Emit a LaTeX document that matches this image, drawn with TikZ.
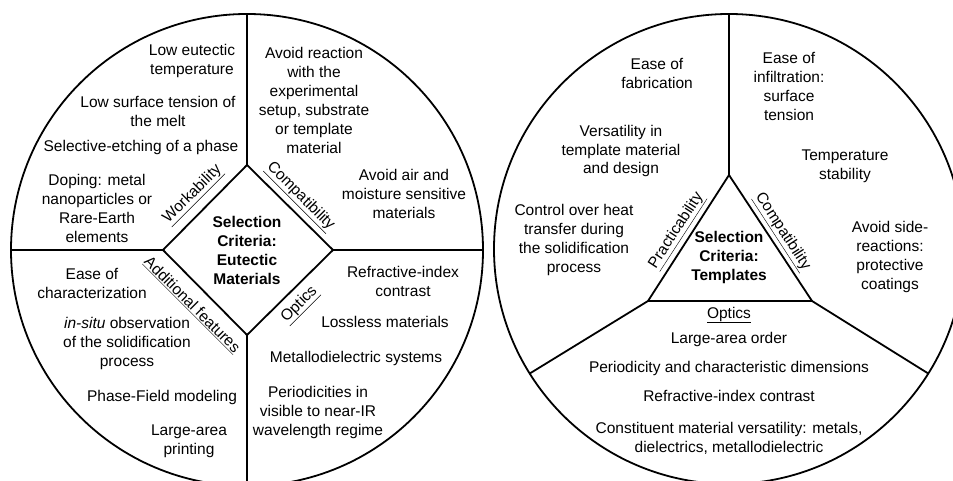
\documentclass[tikz,border=0pt]{standalone}
\usepackage{fontspec}
\setmainfont{Liberation Sans}
\usetikzlibrary{positioning}

\tikzset{
  crit/.style={align=center, font=\fontsize{15.5}{19}\selectfont, inner sep=0pt},
  core/.style={align=center, font=\fontsize{15.5}{19}\selectfont\bfseries, inner sep=0pt},
  sectitle/.style={font=\fontsize{15.5}{19}\selectfont, inner sep=1pt},
  wheel/.style={line width=1.8pt, line join=miter}
}

\begin{document}
\begin{tikzpicture}[x=1pt, y=1pt]

        \useasboundingbox (0,0) rectangle (953,481);
        \clip (0,0) rectangle (953,481);

        % Left wheel: eutectic materials
        \coordinate (lc) at (247,231);
        \draw[wheel] (lc) circle (236);
        \draw[wheel] (247,316) coordinate (dt) -- (333,231) coordinate (dr)
            -- (247,146) coordinate (db) -- (163,231) coordinate (dl) -- cycle;
        \draw[wheel] (dt) -- ([shift={(90:236)}]lc);
        \draw[wheel] (db) -- ([shift={(270:236)}]lc);
        \draw[wheel] (dl) -- ([shift={(180:236)}]lc);
        \draw[wheel] (dr) -- ([shift={(0:236)}]lc);

        % Right wheel: templates
        \coordinate (rc) at (729,232);
        \draw[wheel] (rc) circle (235);
        \draw[wheel] (729,306) coordinate (tt) -- (812,180) coordinate (tr)
            -- (648,180) coordinate (tl) -- cycle;
        \draw[wheel] (tt) -- ([shift={(90:235)}]rc);
        \draw[wheel] (tl) -- ([shift={(212:235)}]rc);
        \draw[wheel] (tr) -- ([shift={(328:235)}]rc);

        % centres
        \node[core] (eutcore) at (247,231) {Selection\\Criteria:\\Eutectic\\Materials};
        \node[core] (tplcore) at (729,224) {Selection\\Criteria:\\Templates};

        % section titles
        \node[sectitle, rotate=45] (workab) at (193,286) {\underline{Workability}};
        \node[sectitle, rotate=-45] (compatl) at (300,284) {\underline{Compatibility}};
        \node[sectitle, rotate=-45] (addfeat) at (192,176) {\underline{Additional features}};
        \node[sectitle, rotate=45] (opticsl) at (300,176) {\underline{Optics}};
        \node[sectitle, rotate=57] (practic) at (677,250) {\underline{Practicability}};
        \node[sectitle, rotate=-57] (compatr) at (782,249) {\underline{Compatibility}};
        \node[sectitle] (opticsr) at (729,166) {\underline{Optics}};

        % Workability
        \node[crit] (lowtemp) at (192,420) {Low eutectic\\temperature};
        \node[crit] (surften) at (158,370) {Low surface tension of\\the melt};
        \node[crit] (etching) at (141,333) {Selective-etching of a phase};
        \node[crit] (doping) at (97,273) {Doping: metal\\nanoparticles or\\Rare-Earth\\elements};
        % Compatibility
        \node[crit] (noreac) at (314,381) {Avoid reaction\\with the\\experimental\\setup, substrate\\or template\\material};
        \node[crit] (noair) at (404,287) {Avoid air and\\moisture sensitive\\materials};
        % Additional features
        \node[crit] (easechar) at (92,198) {Ease of\\characterization};
        \node[crit] (insitu) at (127,138) {\textit{in-situ} observation\\of the solidification\\process};
        \node[crit] (phasefld) at (162,84) {Phase-Field modeling};
        \node[crit] (printing) at (189,40) {Large-area\\printing};
        % Optics
        \node[crit] (rindex) at (403,200) {Refractive-index\\contrast};
        \node[crit] (lossless) at (385,159) {Lossless materials};
        \node[crit] (metsys) at (356,123) {Metallodielectric systems};
        \node[crit] (nearir) at (318,69) {Periodicities in\\visible to near-IR\\wavelength regime};

        % Practicability
        \node[crit] (fabric) at (657,408) {Ease of\\fabrication};
        \node[crit] (versat) at (621,330) {Versatility in\\template material\\and design};
        \node[crit] (heatctl) at (574,241) {Control over heat\\transfer during\\the solidification\\process};
        % Compatibility
        \node[crit] (infil) at (789,395) {Ease of\\infiltration:\\surface\\tension};
        \node[crit] (tempstab) at (845,315) {Temperature\\stability};
        \node[crit] (sidereac) at (890,224) {Avoid side-\\reactions:\\protective\\coatings};
        % Optics
        \node[crit] (order) at (729,142) {Large-area order};
        \node[crit] (dims) at (729,113) {Periodicity and characteristic dimensions};
        \node[crit] (rindexr) at (729,85) {Refractive-index contrast};
        \node[crit] (constit) at (729,43) {Constituent material versatility: metals,\\dielectrics, metallodielectric};

\end{tikzpicture}
\end{document}
